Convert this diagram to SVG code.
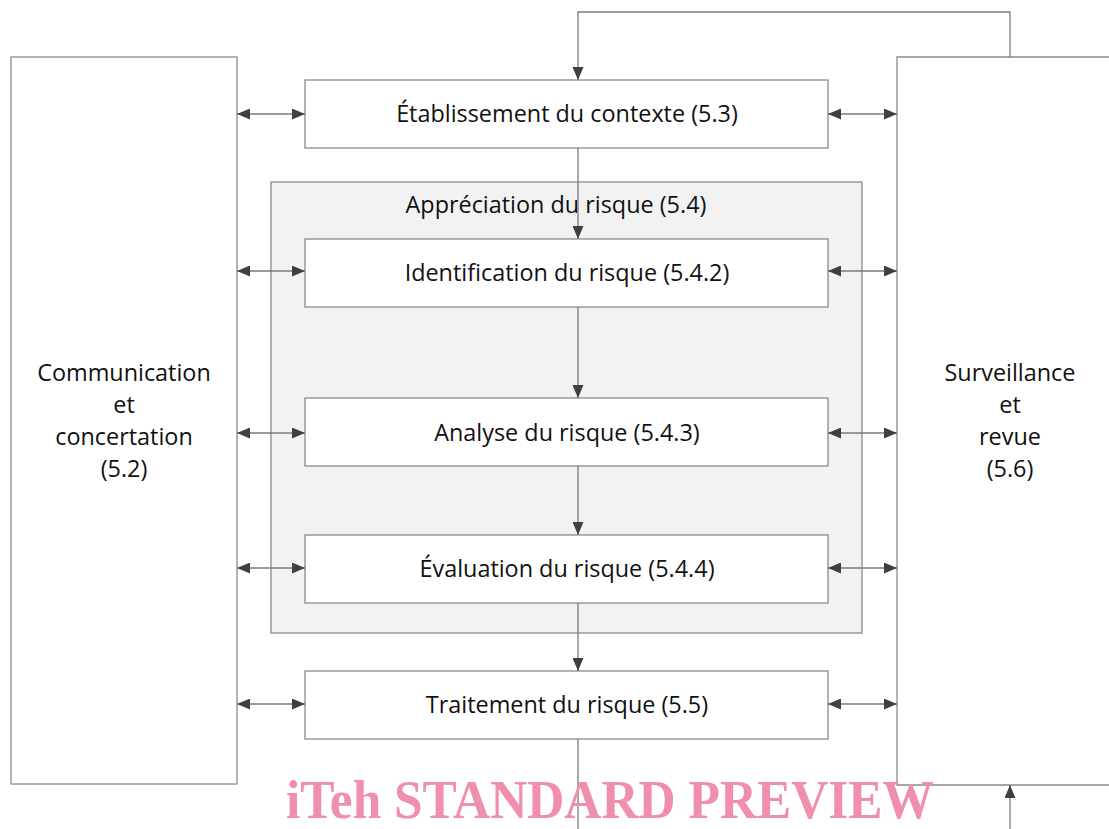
<svg xmlns="http://www.w3.org/2000/svg" width="1109" height="829" viewBox="0 0 1109 829">
<style>
.box{fill:#fff;stroke:#8a8a8a;stroke-width:1.3}
.grp{fill:#f2f2f2;stroke:#8a8a8a;stroke-width:1.3}
.ln{fill:none;stroke:#7a7a7a;stroke-width:1.3}
.t{font-family:"Open Sans","Noto Sans",sans-serif;font-size:23.4px;fill:#111;text-anchor:middle}
.wm{font-family:"Liberation Serif",serif;font-weight:bold;font-size:55px;fill:#ef8fab}
</style>
<defs>
<marker id="ah" viewBox="0 0 13 11" refX="13" refY="5.5" markerWidth="13" markerHeight="11" markerUnits="userSpaceOnUse" orient="auto-start-reverse">
<path d="M0,0 L13,5.5 L0,11 Z" fill="#404040"/>
</marker>
</defs>
<rect width="1109" height="829" fill="#fff"/>
<g id="communication"><rect class="box" x="11" y="57" width="226" height="727"/>
<text class="t"><tspan x="124" y="381">Communication</tspan><tspan x="124" y="413">et</tspan><tspan x="124" y="445">concertation</tspan><tspan x="124" y="477">(5.2)</tspan></text></g>
<g id="surveillance"><path class="box" d="M1110,57 H897 V785 H1110"/>
<text class="t"><tspan x="1010" y="381">Surveillance</tspan><tspan x="1010" y="413">et</tspan><tspan x="1010" y="445">revue</tspan><tspan x="1010" y="477">(5.6)</tspan></text></g>
<g id="appreciation"><rect class="grp" x="271" y="182" width="591" height="451"/>
<text class="t" x="556" y="213">Appréciation du risque (5.4)</text></g>
<g id="contexte"><rect class="box" x="305" y="80" width="523" height="68"/><text class="t" x="567" y="122">Établissement du contexte (5.3)</text></g>
<g id="identification"><rect class="box" x="305" y="239" width="523" height="68"/><text class="t" x="567" y="281">Identification du risque (5.4.2)</text></g>
<g id="analyse"><rect class="box" x="305" y="398" width="523" height="68"/><text class="t" x="567" y="441">Analyse du risque (5.4.3)</text></g>
<g id="evaluation"><rect class="box" x="305" y="535" width="523" height="68"/><text class="t" x="567" y="577">Évaluation du risque (5.4.4)</text></g>
<g id="traitement"><rect class="box" x="305" y="671" width="523" height="68"/><text class="t" x="567" y="713">Traitement du risque (5.5)</text></g>
<g id="connectors">
<path class="ln" d="M1010,57 V12 H578 V80" marker-end="url(#ah)"/>
<path class="ln" d="M578,148 V239" marker-end="url(#ah)"/>
<path class="ln" d="M578,307 V398" marker-end="url(#ah)"/>
<path class="ln" d="M578,466 V535" marker-end="url(#ah)"/>
<path class="ln" d="M578,603 V671" marker-end="url(#ah)"/>
<path class="ln" d="M578,739 V829"/>
<path class="ln" d="M1010,829 V785" marker-end="url(#ah)"/>
<path class="ln" d="M237,114 H305" marker-start="url(#ah)" marker-end="url(#ah)"/>
<path class="ln" d="M828,114 H897" marker-start="url(#ah)" marker-end="url(#ah)"/>
<path class="ln" d="M237,271 H305" marker-start="url(#ah)" marker-end="url(#ah)"/>
<path class="ln" d="M828,271 H897" marker-start="url(#ah)" marker-end="url(#ah)"/>
<path class="ln" d="M237,433 H305" marker-start="url(#ah)" marker-end="url(#ah)"/>
<path class="ln" d="M828,433 H897" marker-start="url(#ah)" marker-end="url(#ah)"/>
<path class="ln" d="M237,568 H305" marker-start="url(#ah)" marker-end="url(#ah)"/>
<path class="ln" d="M828,568 H897" marker-start="url(#ah)" marker-end="url(#ah)"/>
<path class="ln" d="M237,704 H305" marker-start="url(#ah)" marker-end="url(#ah)"/>
<path class="ln" d="M828,704 H897" marker-start="url(#ah)" marker-end="url(#ah)"/>
</g>
<text class="wm" x="286" y="818" textLength="648" lengthAdjust="spacingAndGlyphs">iTeh STANDARD PREVIEW</text>
</svg>
